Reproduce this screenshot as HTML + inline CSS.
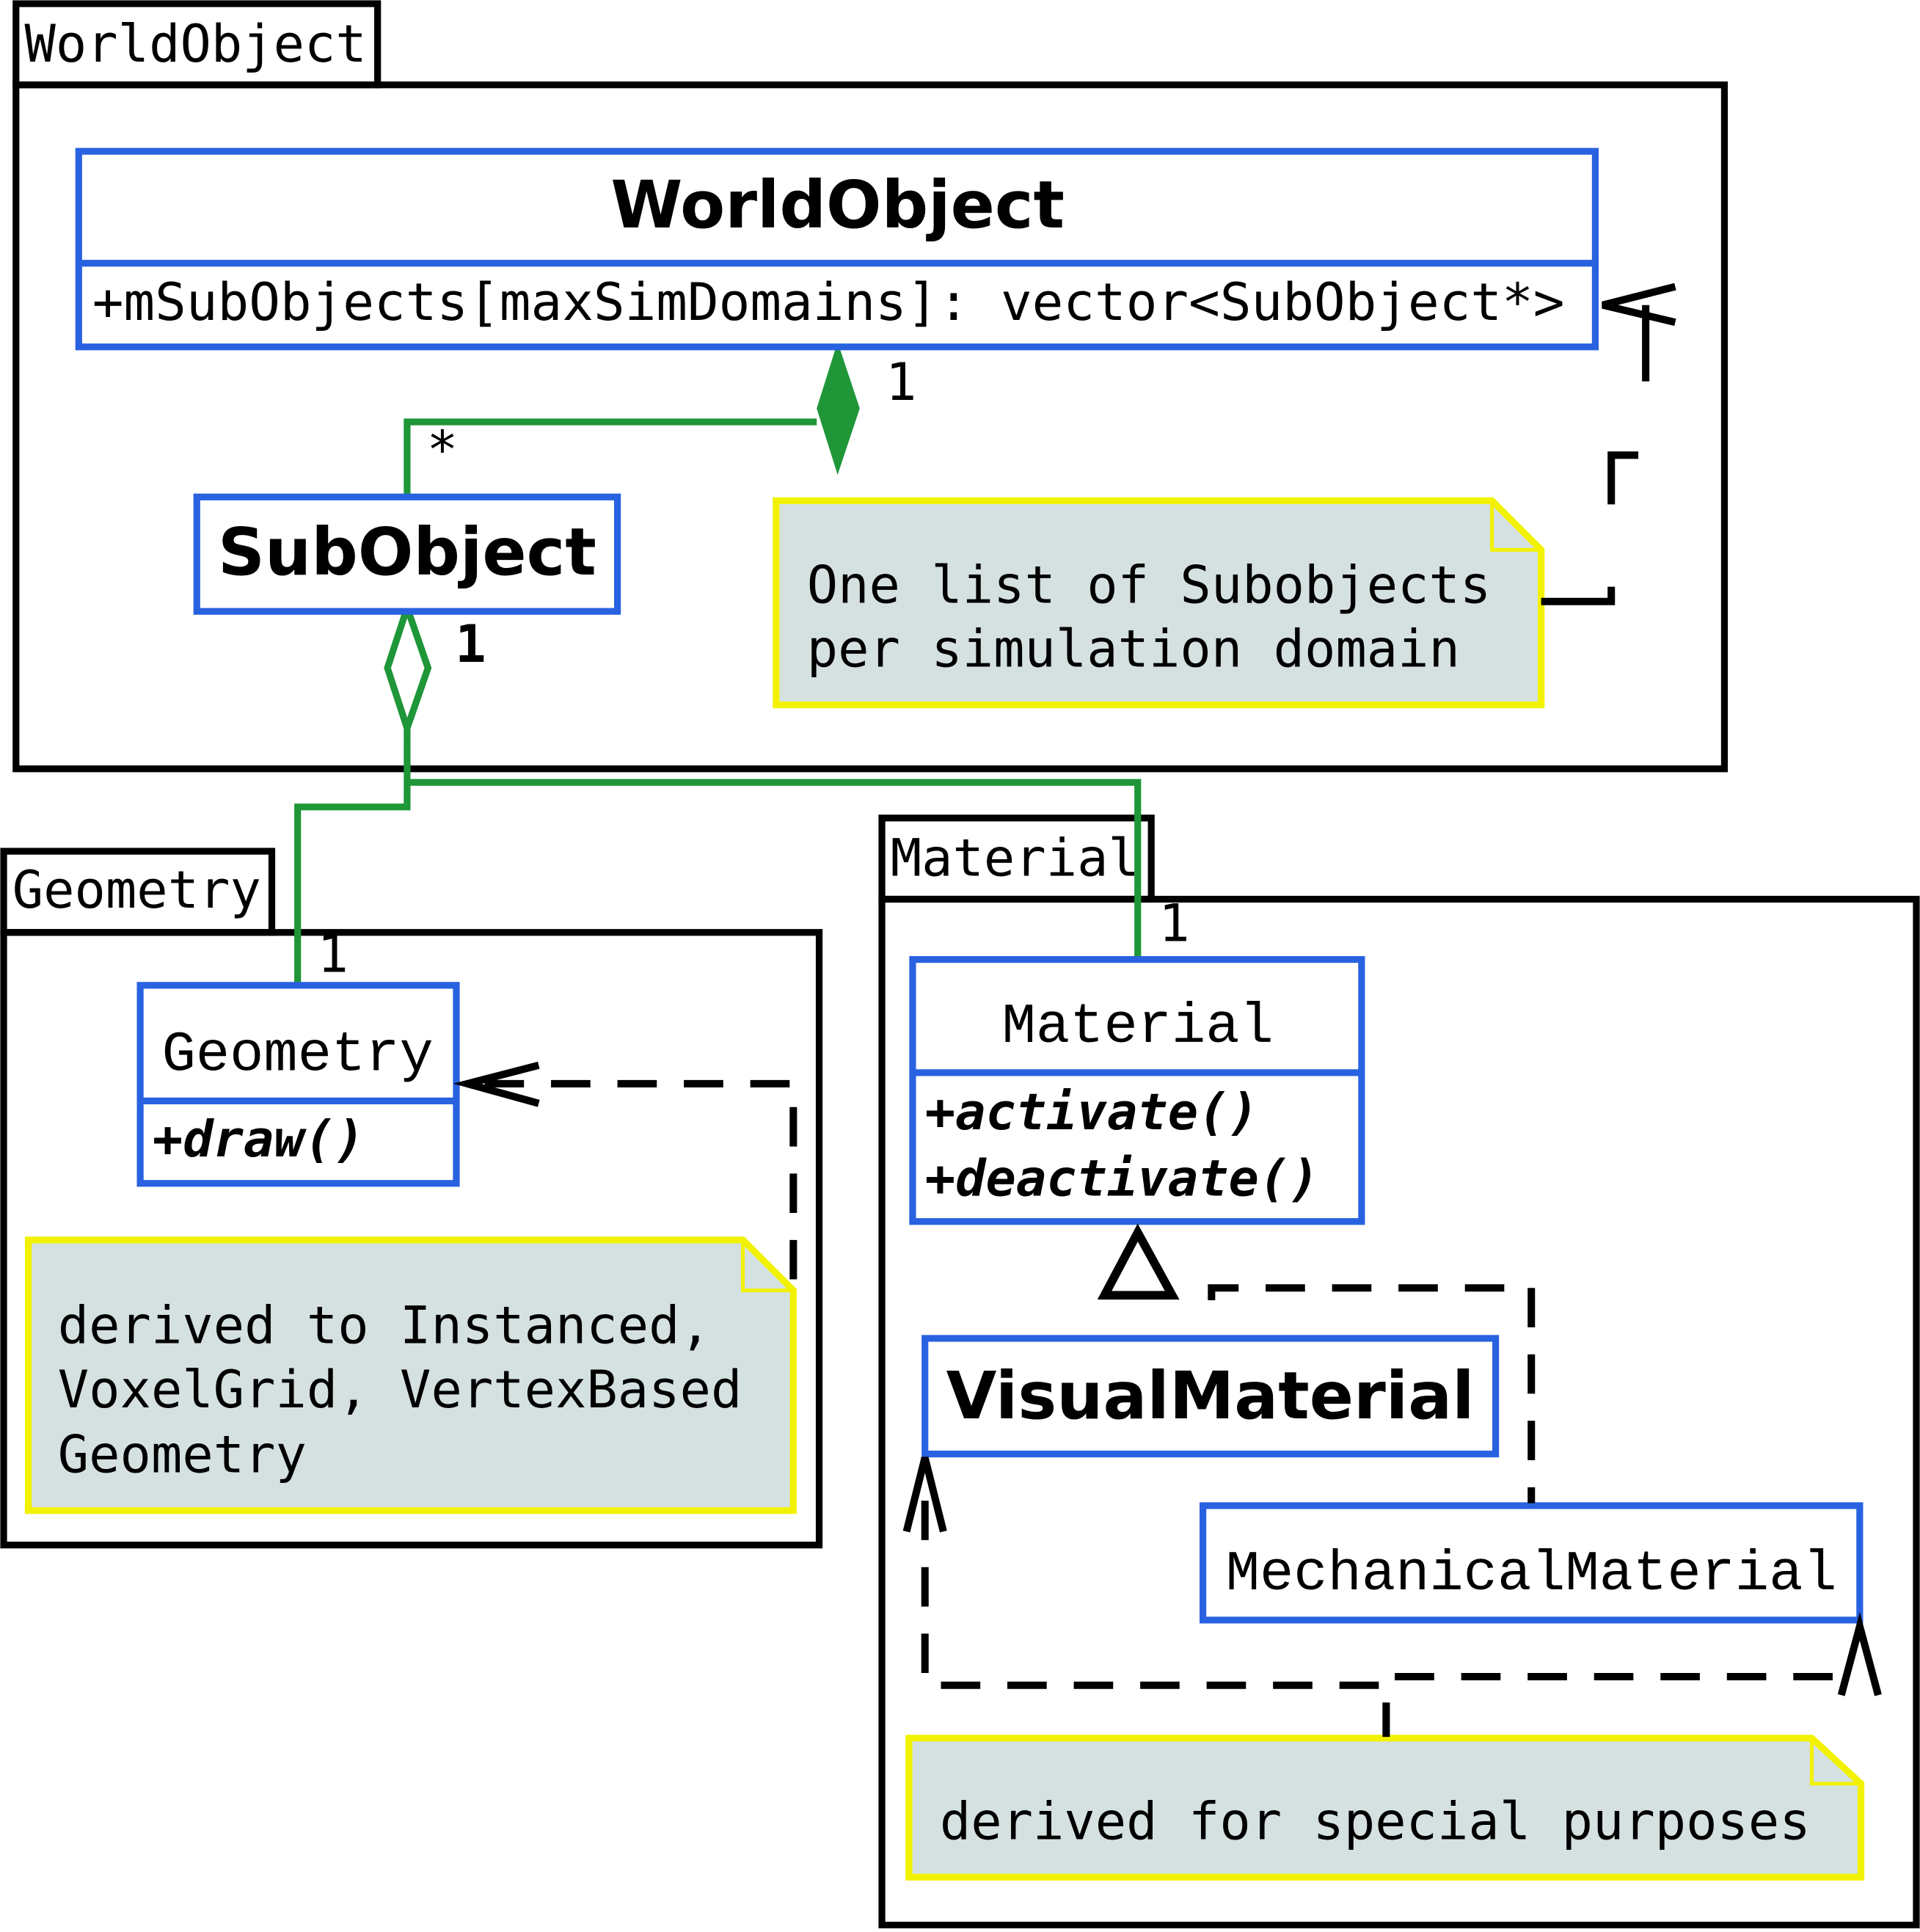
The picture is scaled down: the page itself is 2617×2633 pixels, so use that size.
<!DOCTYPE html>
<html><head><style>html,body{margin:0;padding:0;background:#fff}</style></head><body>
<svg xmlns="http://www.w3.org/2000/svg" width="2617" height="2628" viewBox="0 0 1561 1567.6" preserveAspectRatio="none">
<g fill="none" stroke="#000" stroke-width="5.5">
<rect x="13" y="3" width="294" height="66"/>
<rect x="13" y="69" width="1389" height="556"/>
<rect x="3" y="692" width="218" height="66"/>
<rect x="3" y="758" width="663" height="498"/>
<rect x="717" y="665" width="219" height="66"/>
<rect x="717" y="731" width="841" height="834"/>
</g>
<g font-family="'DejaVu Sans Mono','Liberation Mono',monospace" font-size="42" fill="#000">
<text x="20" y="50">WorldObject</text>
<text x="10" y="738">Geometry</text>
<text x="724" y="712">Material</text>
</g>
<g fill="none" stroke="#1f9638" stroke-width="5.5">
<polyline points="664,343 331,343 331,404"/>
<polyline points="331,592 331,656 242,656 242,801"/>
<polyline points="331,636 925,636 925,779"/>
<polygon points="331,494 348,543 331,592 315,543"/>
</g>
<polygon points="681,278 699,332 681,386 664,332" fill="#1f9638"/>
<g fill="#fff" stroke="#2962e0" stroke-width="5.5">
<rect x="64" y="123" width="1233" height="159"/>
<rect x="160" y="404" width="342" height="93"/>
<rect x="114" y="801" width="257" height="161"/>
<rect x="742" y="780" width="365" height="213"/>
<rect x="752" y="1088" width="464" height="94"/>
<rect x="978" y="1224" width="534" height="93"/>
</g>
<g stroke="#2962e0" stroke-width="5.5">
<line x1="64" y1="214" x2="1297" y2="214"/>
<line x1="114" y1="895" x2="371" y2="895"/>
<line x1="742" y1="872" x2="1107" y2="872"/>
</g>
<g font-family="'DejaVu Sans','Liberation Sans',sans-serif" font-weight="bold" font-size="53" fill="#000" text-anchor="middle">
<text x="681" y="185">WorldObject</text>
<text x="331" y="467">SubObject</text>
<text x="984" y="1153">VisualMaterial</text>
</g>
<g font-family="'DejaVu Sans Mono',monospace" font-size="42" fill="#000">
<text x="75" y="260" textLength="1197" lengthAdjust="spacingAndGlyphs">+mSubObjects[maxSimDomains]: vector&lt;SubObject*&gt;</text>
<text x="720" y="325">1</text>
<text x="347" y="380">*</text>
<text x="370" y="538" font-weight="bold">1</text>
<text x="258" y="790">1</text>
<text x="942" y="765">1</text>
</g>
<g font-family="'Liberation Mono',monospace" font-size="46" fill="#000" text-anchor="middle">
<text x="242" y="870">Geometry</text>
<text x="925" y="847">Material</text>
<text x="1245" y="1292">MechanicalMaterial</text>
</g>
<g font-family="'DejaVu Sans Mono',monospace" font-size="41" font-weight="bold" font-style="italic" fill="#000">
<text x="124" y="940">+draw()</text>
<text x="752" y="918">+activate()</text>
<text x="752" y="972">+deactivate()</text>
</g>
<g fill="#d5e1e1" stroke="#f2f200" stroke-width="5.5">
<polygon points="631,407 1213,407 1253,447 1253,573 631,573"/>
<polyline points="1213,407 1213,447 1253,447" fill="none" stroke-width="3"/>
<polygon points="23,1008 604,1008 645,1049 645,1228 23,1228"/>
<polyline points="604,1008 604,1049 645,1049" fill="none" stroke-width="3"/>
<polygon points="739,1413 1473,1413 1513,1450 1513,1526 739,1526"/>
<polyline points="1473,1413 1473,1450 1513,1450" fill="none" stroke-width="3"/>
</g>
<g font-family="'DejaVu Sans Mono',monospace" font-size="42" fill="#000">
<text x="656" y="490">One list of Subobjects</text>
<text x="656" y="542">per simulation domain</text>
<text x="47" y="1092">derived to Instanced,</text>
<text x="47" y="1144">VoxelGrid, VertexBased</text>
<text x="47" y="1197">Geometry</text>
<text x="764" y="1495">derived for special purposes</text>
</g>
<g fill="none" stroke="#000" stroke-width="6">
<polyline points="1253,489 1310,489 1310,477"/>
<polyline points="1310,410 1310,370 1332,370"/>
<line x1="1338" y1="248" x2="1338" y2="310"/>
<polyline points="1362,233 1303,248 1362,262"/>
<polyline points="645,1040 645,881 378,881" stroke-dasharray="32,22"/>
<polyline points="438,866 380,881 438,897"/>
<polygon points="925,1002 953,1053 898,1053" stroke-width="7"/>
<polyline points="985,1057 985,1047 1245,1047 1245,1222" stroke-dasharray="32,22"/>
<polyline points="752,1360 752,1200" stroke-dasharray="32,22"/>
<polyline points="737,1245 752,1185 767,1245"/>
<polyline points="765,1370 1127,1370" stroke-dasharray="32,22"/>
<line x1="1127" y1="1384" x2="1127" y2="1412"/>
<polyline points="1134,1363 1505,1363" stroke-dasharray="32,22"/>
<polyline points="1497,1378 1512,1322 1527,1378"/>
</g>
</svg>
</body></html>
